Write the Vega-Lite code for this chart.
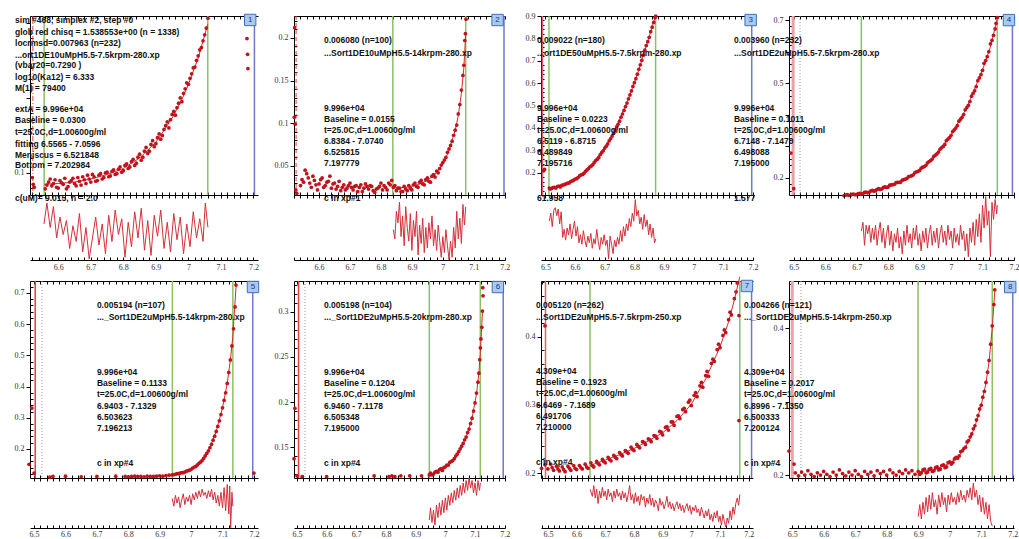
{
"$schema": "https://vega.github.io/schema/vega-lite/v6.json",
"background": "white",
"padding": {"left": 14, "top": 12, "right": 0, "bottom": 0},
"columns": 4,
"spacing": {"row": 0, "column": 36},
"bounds": "flush",
"align": "each",
"config": {
  "view": {"stroke": null},
  "axis": {"labelFont": "Liberation Serif", "labelFontSize": 8, "labelColor": "#333", "domainColor": "#000", "tickColor": "#000", "labelPadding": 2, "labelOverlap": false, "labelFlush": false, "grid": false},
  "text": {"font": "Liberation Sans"},
  "circle": {"size": 14, "color": "#c4121c", "opacity": 1}
},
"datasets": {
  "a1": [{"x":6.52,"y":0.094},{"x":6.523,"y":0.085},{"x":6.526,"y":0.081},{"x":7.18,"y":0.279},{"x":7.182,"y":0.258},{"x":7.183,"y":0.239},{"x":6.56,"y":0.079},{"x":6.565,"y":0.084},{"x":6.57,"y":0.088},{"x":6.575,"y":0.092},{"x":6.58,"y":0.083},{"x":6.585,"y":0.086},{"x":6.59,"y":0.091},{"x":6.595,"y":0.081},{"x":6.6,"y":0.08},{"x":6.605,"y":0.09},{"x":6.61,"y":0.087},{"x":6.615,"y":0.085},{"x":6.62,"y":0.093},{"x":6.625,"y":0.079},{"x":6.63,"y":0.082},{"x":6.635,"y":0.088},{"x":6.64,"y":0.09},{"x":6.645,"y":0.093},{"x":6.65,"y":0.086},{"x":6.655,"y":0.083},{"x":6.66,"y":0.094},{"x":6.665,"y":0.089},{"x":6.67,"y":0.084},{"x":6.675,"y":0.095},{"x":6.68,"y":0.091},{"x":6.685,"y":0.086},{"x":6.69,"y":0.097},{"x":6.695,"y":0.092},{"x":6.7,"y":0.088},{"x":6.705,"y":0.098},{"x":6.71,"y":0.095},{"x":6.715,"y":0.089},{"x":6.72,"y":0.09},{"x":6.725,"y":0.097},{"x":6.73,"y":0.099},{"x":6.735,"y":0.092},{"x":6.74,"y":0.094},{"x":6.745,"y":0.1},{"x":6.75,"y":0.101},{"x":6.755,"y":0.095},{"x":6.76,"y":0.096},{"x":6.765,"y":0.102},{"x":6.77,"y":0.104},{"x":6.775,"y":0.098},{"x":6.78,"y":0.099},{"x":6.785,"y":0.105},{"x":6.79,"y":0.108},{"x":6.795,"y":0.101},{"x":6.8,"y":0.103},{"x":6.805,"y":0.11},{"x":6.81,"y":0.112},{"x":6.815,"y":0.106},{"x":6.82,"y":0.108},{"x":6.825,"y":0.115},{"x":6.83,"y":0.118},{"x":6.835,"y":0.11},{"x":6.84,"y":0.113},{"x":6.845,"y":0.121},{"x":6.85,"y":0.125},{"x":6.855,"y":0.117},{"x":6.86,"y":0.121},{"x":6.865,"y":0.129},{"x":6.87,"y":0.134},{"x":6.875,"y":0.126},{"x":6.88,"y":0.129},{"x":6.885,"y":0.138},{"x":6.89,"y":0.143},{"x":6.895,"y":0.135},{"x":6.9,"y":0.139},{"x":6.905,"y":0.147},{"x":6.91,"y":0.152},{"x":6.915,"y":0.145},{"x":6.92,"y":0.15},{"x":6.925,"y":0.158},{"x":6.93,"y":0.163},{"x":6.935,"y":0.168},{"x":6.94,"y":0.16},{"x":6.945,"y":0.171},{"x":6.95,"y":0.178},{"x":6.955,"y":0.182},{"x":6.96,"y":0.177},{"x":6.965,"y":0.187},{"x":6.97,"y":0.193},{"x":6.975,"y":0.2},{"x":6.98,"y":0.195},{"x":6.985,"y":0.206},{"x":6.99,"y":0.212},{"x":6.995,"y":0.22},{"x":7,"y":0.218},{"x":7.005,"y":0.226},{"x":7.01,"y":0.232},{"x":7.015,"y":0.24},{"x":7.02,"y":0.241},{"x":7.025,"y":0.25},{"x":7.03,"y":0.256},{"x":7.035,"y":0.264},{"x":7.04,"y":0.267},{"x":7.045,"y":0.276},{"x":7.05,"y":0.284},{"x":7.055,"y":0.293},{"x":7.06,"y":0.306}],
  "f1": [{"x":6.5565,"y":0.085},{"x":6.6,"y":0.086},{"x":6.65,"y":0.088},{"x":6.7,"y":0.092},{"x":6.75,"y":0.098},{"x":6.8,"y":0.106},{"x":6.85,"y":0.12},{"x":6.9,"y":0.141},{"x":6.95,"y":0.173},{"x":6.98,"y":0.198},{"x":7,"y":0.218},{"x":7.03,"y":0.253},{"x":7.0596,"y":0.298}],
  "r1": [{"x":6.556,"y":0.004},{"x":6.565,"y":0.016},{"x":6.575,"y":0.002},{"x":6.585,"y":0.014},{"x":6.595,"y":-0.004},{"x":6.605,"y":0.008},{"x":6.615,"y":-0.002},{"x":6.625,"y":0.006},{"x":6.635,"y":-0.01},{"x":6.645,"y":0.003},{"x":6.655,"y":-0.006},{"x":6.665,"y":0.01},{"x":6.675,"y":-0.012},{"x":6.685,"y":0.002},{"x":6.695,"y":-0.016},{"x":6.705,"y":-0.004},{"x":6.715,"y":0.008},{"x":6.725,"y":-0.008},{"x":6.735,"y":0.004},{"x":6.745,"y":-0.013},{"x":6.755,"y":0.009},{"x":6.765,"y":-0.006},{"x":6.775,"y":0.012},{"x":6.785,"y":-0.002},{"x":6.795,"y":0.007},{"x":6.805,"y":-0.015},{"x":6.815,"y":0.005},{"x":6.825,"y":-0.009},{"x":6.835,"y":0.011},{"x":6.845,"y":-0.004},{"x":6.855,"y":0.013},{"x":6.865,"y":-0.011},{"x":6.875,"y":0.006},{"x":6.885,"y":-0.014},{"x":6.895,"y":0.009},{"x":6.905,"y":-0.003},{"x":6.915,"y":0.012},{"x":6.925,"y":-0.01},{"x":6.935,"y":0.005},{"x":6.945,"y":-0.012},{"x":6.955,"y":0.01},{"x":6.965,"y":-0.005},{"x":6.975,"y":0.008},{"x":6.985,"y":-0.013},{"x":6.995,"y":0.004},{"x":7.005,"y":-0.009},{"x":7.015,"y":0.011},{"x":7.025,"y":-0.004},{"x":7.035,"y":0.007},{"x":7.045,"y":-0.006},{"x":7.052,"y":0.016},{"x":7.06,"y":0.002}],
  "t1": [{"t":"sim #468, simplex #2, step #0","x":6.467,"y":0.3033},{"t":"glob red chisq = 1.538553e+00 (n = 1338)","x":6.467,"y":0.2877},{"t":"locrmsd=0.007963 (n=232)","x":6.467,"y":0.2726},{"t":"...ort1DE10uMpH5.5-7.5krpm-280.xp","x":6.467,"y":0.2574},{"t":" (vbar20=0.7290 )","x":6.467,"y":0.2433},{"t":"log10(Ka12) = 6.333","x":6.467,"y":0.2277},{"t":"M(1) = 79400","x":6.467,"y":0.2126},{"t":"extA = 9.996e+04","x":6.467,"y":0.1846},{"t":"Baseline = 0.0300","x":6.467,"y":0.1699},{"t":"t=25.0C,d=1.00600g/ml","x":6.467,"y":0.1543},{"t":"fitting 6.5565 - 7.0596","x":6.467,"y":0.1387},{"t":"Meniscus = 6.521848","x":6.467,"y":0.1246},{"t":"Bottom = 7.202984","x":6.467,"y":0.1104}],
  "a2": [{"x":6.521,"y":0.212},{"x":6.52,"y":0.107},{"x":6.523,"y":0.099},{"x":6.525,"y":0.022},{"x":6.528,"y":0.018},{"x":6.54,"y":0.027},{"x":6.545,"y":0.034},{"x":6.55,"y":0.031},{"x":6.555,"y":0.045},{"x":6.56,"y":0.041},{"x":6.565,"y":0.036},{"x":6.57,"y":0.03},{"x":6.575,"y":0.025},{"x":6.58,"y":0.038},{"x":6.585,"y":0.033},{"x":6.59,"y":0.028},{"x":6.595,"y":0.022},{"x":6.6,"y":0.029},{"x":6.605,"y":0.034},{"x":6.61,"y":0.036},{"x":6.615,"y":0.025},{"x":6.62,"y":0.027},{"x":6.625,"y":0.031},{"x":6.63,"y":0.032},{"x":6.635,"y":0.038},{"x":6.64,"y":0.024},{"x":6.645,"y":0.029},{"x":6.65,"y":0.03},{"x":6.655,"y":0.023},{"x":6.66,"y":0.026},{"x":6.665,"y":0.032},{"x":6.67,"y":0.021},{"x":6.675,"y":0.025},{"x":6.68,"y":0.028},{"x":6.685,"y":0.022},{"x":6.69,"y":0.024},{"x":6.695,"y":0.027},{"x":6.7,"y":0.03},{"x":6.705,"y":0.025},{"x":6.71,"y":0.022},{"x":6.715,"y":0.026},{"x":6.72,"y":0.027},{"x":6.725,"y":0.02},{"x":6.73,"y":0.025},{"x":6.735,"y":0.028},{"x":6.74,"y":0.02},{"x":6.745,"y":0.024},{"x":6.75,"y":0.029},{"x":6.755,"y":0.026},{"x":6.76,"y":0.023},{"x":6.765,"y":0.027},{"x":6.77,"y":0.026},{"x":6.775,"y":0.021},{"x":6.78,"y":0.019},{"x":6.785,"y":0.023},{"x":6.79,"y":0.024},{"x":6.795,"y":0.026},{"x":6.8,"y":0.03},{"x":6.805,"y":0.022},{"x":6.81,"y":0.027},{"x":6.815,"y":0.025},{"x":6.82,"y":0.022},{"x":6.825,"y":0.03},{"x":6.83,"y":0.028},{"x":6.835,"y":0.033},{"x":6.84,"y":0.025},{"x":6.845,"y":0.027},{"x":6.85,"y":0.021},{"x":6.855,"y":0.024},{"x":6.86,"y":0.024},{"x":6.865,"y":0.02},{"x":6.87,"y":0.02},{"x":6.875,"y":0.026},{"x":6.88,"y":0.023},{"x":6.885,"y":0.021},{"x":6.89,"y":0.027},{"x":6.895,"y":0.024},{"x":6.9,"y":0.022},{"x":6.905,"y":0.028},{"x":6.91,"y":0.03},{"x":6.915,"y":0.026},{"x":6.92,"y":0.025},{"x":6.925,"y":0.031},{"x":6.93,"y":0.033},{"x":6.935,"y":0.029},{"x":6.94,"y":0.028},{"x":6.945,"y":0.034},{"x":6.95,"y":0.036},{"x":6.955,"y":0.032},{"x":6.96,"y":0.031},{"x":6.965,"y":0.038},{"x":6.97,"y":0.04},{"x":6.975,"y":0.037},{"x":6.98,"y":0.044},{"x":6.985,"y":0.042},{"x":6.99,"y":0.047},{"x":6.995,"y":0.051},{"x":7,"y":0.054},{"x":7.005,"y":0.057},{"x":7.01,"y":0.06},{"x":7.015,"y":0.066},{"x":7.02,"y":0.07},{"x":7.025,"y":0.074},{"x":7.03,"y":0.079},{"x":7.035,"y":0.086},{"x":7.04,"y":0.092},{"x":7.045,"y":0.098},{"x":7.05,"y":0.111},{"x":7.055,"y":0.122},{"x":7.06,"y":0.139},{"x":7.065,"y":0.156},{"x":7.068,"y":0.168},{"x":7.071,"y":0.197},{"x":7.073,"y":0.205},{"x":7.075,"y":0.222}],
  "f2": [{"x":6.8384,"y":0.024},{"x":6.88,"y":0.025},{"x":6.92,"y":0.028},{"x":6.95,"y":0.033},{"x":6.98,"y":0.042},{"x":7,"y":0.052},{"x":7.02,"y":0.068},{"x":7.04,"y":0.092},{"x":7.05,"y":0.109},{"x":7.06,"y":0.135},{"x":7.068,"y":0.165},{"x":7.074,"y":0.205}],
  "r2": [{"x":6.84,"y":0.001},{"x":6.845,"y":-0.003},{"x":6.85,"y":0.009},{"x":6.855,"y":0.004},{"x":6.86,"y":0.013},{"x":6.865,"y":-0.002},{"x":6.87,"y":0.007},{"x":6.875,"y":-0.006},{"x":6.88,"y":0.011},{"x":6.885,"y":0.002},{"x":6.89,"y":-0.004},{"x":6.895,"y":0.008},{"x":6.9,"y":-0.008},{"x":6.905,"y":0.005},{"x":6.91,"y":-0.002},{"x":6.915,"y":0.009},{"x":6.92,"y":-0.01},{"x":6.925,"y":0.003},{"x":6.93,"y":-0.005},{"x":6.935,"y":0.006},{"x":6.94,"y":-0.009},{"x":6.945,"y":0.002},{"x":6.95,"y":-0.007},{"x":6.955,"y":0.004},{"x":6.96,"y":-0.003},{"x":6.965,"y":0.007},{"x":6.97,"y":-0.006},{"x":6.975,"y":0.001},{"x":6.98,"y":-0.008},{"x":6.985,"y":0.003},{"x":6.99,"y":-0.004},{"x":6.995,"y":-0.011},{"x":7,"y":-0.002},{"x":7.005,"y":-0.009},{"x":7.01,"y":0.001},{"x":7.015,"y":-0.006},{"x":7.02,"y":-0.012},{"x":7.025,"y":-0.004},{"x":7.03,"y":-0.011},{"x":7.035,"y":0.002},{"x":7.04,"y":-0.007},{"x":7.045,"y":0.009},{"x":7.05,"y":-0.003},{"x":7.055,"y":0.006},{"x":7.06,"y":-0.005},{"x":7.065,"y":0.012},{"x":7.07,"y":0.003},{"x":7.074,"y":0.011}],
  "t2": [{"t":"0.006080 (n=100)","x":6.616,"y":0.1976},{"t":"...Sort1DE10uMpH5.5-14krpm-280.xp","x":6.616,"y":0.1824},{"t":"9.996e+04","x":6.616,"y":0.1181},{"t":"Baseline = 0.0155","x":6.616,"y":0.1052},{"t":"t=25.0C,d=1.00600g/ml","x":6.616,"y":0.0923},{"t":"6.8384 - 7.0740","x":6.616,"y":0.0795},{"t":"6.525815","x":6.616,"y":0.0666},{"t":"7.197779","x":6.616,"y":0.0538}],
  "a3": [{"x":6.494,"y":0.208},{"x":6.497,"y":0.214},{"x":6.513,"y":0.131},{"x":6.516,"y":0.127},{"x":6.52,"y":0.129},{"x":6.525,"y":0.133},{"x":6.53,"y":0.134},{"x":6.535,"y":0.131},{"x":6.54,"y":0.138},{"x":6.545,"y":0.14},{"x":6.55,"y":0.136},{"x":6.555,"y":0.143},{"x":6.56,"y":0.145},{"x":6.565,"y":0.147},{"x":6.57,"y":0.15},{"x":6.575,"y":0.153},{"x":6.58,"y":0.154},{"x":6.585,"y":0.16},{"x":6.59,"y":0.163},{"x":6.595,"y":0.166},{"x":6.6,"y":0.171},{"x":6.605,"y":0.173},{"x":6.61,"y":0.178},{"x":6.615,"y":0.185},{"x":6.62,"y":0.19},{"x":6.625,"y":0.192},{"x":6.63,"y":0.197},{"x":6.635,"y":0.206},{"x":6.64,"y":0.212},{"x":6.645,"y":0.218},{"x":6.65,"y":0.226},{"x":6.655,"y":0.23},{"x":6.66,"y":0.236},{"x":6.665,"y":0.246},{"x":6.67,"y":0.255},{"x":6.675,"y":0.26},{"x":6.68,"y":0.268},{"x":6.685,"y":0.281},{"x":6.69,"y":0.29},{"x":6.695,"y":0.298},{"x":6.7,"y":0.31},{"x":6.705,"y":0.318},{"x":6.71,"y":0.328},{"x":6.715,"y":0.342},{"x":6.72,"y":0.352},{"x":6.725,"y":0.364},{"x":6.73,"y":0.377},{"x":6.735,"y":0.39},{"x":6.74,"y":0.405},{"x":6.745,"y":0.416},{"x":6.75,"y":0.43},{"x":6.755,"y":0.448},{"x":6.76,"y":0.462},{"x":6.765,"y":0.478},{"x":6.77,"y":0.495},{"x":6.775,"y":0.511},{"x":6.78,"y":0.53},{"x":6.785,"y":0.547},{"x":6.79,"y":0.565},{"x":6.795,"y":0.585},{"x":6.8,"y":0.602},{"x":6.805,"y":0.62},{"x":6.81,"y":0.64},{"x":6.815,"y":0.662},{"x":6.82,"y":0.682},{"x":6.825,"y":0.702},{"x":6.83,"y":0.725},{"x":6.835,"y":0.747},{"x":6.84,"y":0.768},{"x":6.845,"y":0.785},{"x":6.85,"y":0.805},{"x":6.855,"y":0.83},{"x":6.86,"y":0.85},{"x":6.865,"y":0.871},{"x":6.87,"y":0.893},{"x":6.872,"y":0.9}],
  "f3": [{"x":6.5119,"y":0.129},{"x":6.55,"y":0.137},{"x":6.6,"y":0.169},{"x":6.65,"y":0.225},{"x":6.7,"y":0.31},{"x":6.74,"y":0.405},{"x":6.78,"y":0.53},{"x":6.81,"y":0.64},{"x":6.84,"y":0.766},{"x":6.8715,"y":0.9}],
  "r3": [{"x":6.513,"y":0.008},{"x":6.518,"y":0.014},{"x":6.523,"y":0.004},{"x":6.528,"y":0.016},{"x":6.533,"y":0.018},{"x":6.538,"y":0.012},{"x":6.543,"y":0.017},{"x":6.548,"y":0.006},{"x":6.553,"y":0.015},{"x":6.558,"y":-0.004},{"x":6.563,"y":0.002},{"x":6.568,"y":-0.006},{"x":6.573,"y":0.003},{"x":6.578,"y":-0.002},{"x":6.583,"y":0.006},{"x":6.588,"y":-0.005},{"x":6.593,"y":0.002},{"x":6.598,"y":0.008},{"x":6.603,"y":-0.003},{"x":6.608,"y":0.004},{"x":6.613,"y":-0.008},{"x":6.618,"y":-0.002},{"x":6.623,"y":-0.009},{"x":6.628,"y":0.001},{"x":6.633,"y":-0.006},{"x":6.638,"y":-0.011},{"x":6.643,"y":-0.003},{"x":6.648,"y":-0.008},{"x":6.653,"y":-0.001},{"x":6.658,"y":-0.012},{"x":6.663,"y":-0.005},{"x":6.668,"y":-0.009},{"x":6.673,"y":0.002},{"x":6.678,"y":-0.007},{"x":6.683,"y":-0.013},{"x":6.688,"y":-0.004},{"x":6.693,"y":-0.009},{"x":6.698,"y":-0.002},{"x":6.703,"y":-0.01},{"x":6.708,"y":-0.006},{"x":6.713,"y":-0.02},{"x":6.718,"y":-0.003},{"x":6.723,"y":-0.009},{"x":6.728,"y":-0.016},{"x":6.733,"y":-0.006},{"x":6.738,"y":-0.011},{"x":6.743,"y":-0.004},{"x":6.748,"y":-0.009},{"x":6.753,"y":0.001},{"x":6.758,"y":-0.007},{"x":6.763,"y":0.004},{"x":6.768,"y":-0.003},{"x":6.773,"y":0.006},{"x":6.778,"y":0.001},{"x":6.783,"y":0.01},{"x":6.788,"y":0.004},{"x":6.793,"y":0.014},{"x":6.798,"y":0.008},{"x":6.803,"y":0.024},{"x":6.808,"y":0.012},{"x":6.813,"y":0.016},{"x":6.818,"y":0.006},{"x":6.823,"y":0.011},{"x":6.828,"y":0.002},{"x":6.833,"y":0.013},{"x":6.838,"y":0.004},{"x":6.843,"y":0.009},{"x":6.848,"y":-0.002},{"x":6.853,"y":0.006},{"x":6.858,"y":-0.004},{"x":6.863,"y":0.003},{"x":6.868,"y":-0.008},{"x":6.872,"y":-0.005}],
  "t3": [{"t":"0.009022 (n=180)","x":6.4715,"y":0.7927},{"t":"...ort1DE50uMpH5.5-7.5krpm-280.xp","x":6.4715,"y":0.7346},{"t":"9.996e+04","x":6.4715,"y":0.4888},{"t":"Baseline = 0.0223","x":6.4715,"y":0.4397},{"t":"t=25.0C,d=1.00600g/ml","x":6.4715,"y":0.3905},{"t":"6.5119 - 6.8715","x":6.4715,"y":0.3413},{"t":"6.489849","x":6.4715,"y":0.2922},{"t":"7.195716","x":6.4715,"y":0.243}],
  "a4": [{"x":6.491,"y":0.279},{"x":6.5,"y":0.166},{"x":6.66,"y":0.144},{"x":6.665,"y":0.146},{"x":6.67,"y":0.147},{"x":6.675,"y":0.145},{"x":6.68,"y":0.145},{"x":6.685,"y":0.148},{"x":6.69,"y":0.149},{"x":6.695,"y":0.147},{"x":6.7,"y":0.147},{"x":6.705,"y":0.15},{"x":6.71,"y":0.151},{"x":6.715,"y":0.149},{"x":6.72,"y":0.15},{"x":6.725,"y":0.154},{"x":6.73,"y":0.155},{"x":6.735,"y":0.153},{"x":6.74,"y":0.155},{"x":6.745,"y":0.159},{"x":6.75,"y":0.161},{"x":6.755,"y":0.158},{"x":6.76,"y":0.16},{"x":6.765,"y":0.164},{"x":6.77,"y":0.166},{"x":6.775,"y":0.164},{"x":6.78,"y":0.165},{"x":6.785,"y":0.17},{"x":6.79,"y":0.172},{"x":6.795,"y":0.17},{"x":6.8,"y":0.171},{"x":6.805,"y":0.177},{"x":6.81,"y":0.178},{"x":6.815,"y":0.179},{"x":6.82,"y":0.18},{"x":6.825,"y":0.185},{"x":6.83,"y":0.186},{"x":6.835,"y":0.186},{"x":6.84,"y":0.187},{"x":6.845,"y":0.193},{"x":6.85,"y":0.195},{"x":6.855,"y":0.196},{"x":6.86,"y":0.199},{"x":6.865,"y":0.204},{"x":6.87,"y":0.205},{"x":6.875,"y":0.207},{"x":6.88,"y":0.21},{"x":6.885,"y":0.217},{"x":6.89,"y":0.219},{"x":6.895,"y":0.221},{"x":6.9,"y":0.224},{"x":6.905,"y":0.231},{"x":6.91,"y":0.234},{"x":6.915,"y":0.236},{"x":6.92,"y":0.24},{"x":6.925,"y":0.248},{"x":6.93,"y":0.252},{"x":6.935,"y":0.255},{"x":6.94,"y":0.26},{"x":6.945,"y":0.268},{"x":6.95,"y":0.272},{"x":6.955,"y":0.276},{"x":6.96,"y":0.282},{"x":6.965,"y":0.291},{"x":6.97,"y":0.296},{"x":6.975,"y":0.3},{"x":6.98,"y":0.306},{"x":6.985,"y":0.318},{"x":6.99,"y":0.323},{"x":6.995,"y":0.328},{"x":7,"y":0.335},{"x":7.005,"y":0.347},{"x":7.01,"y":0.352},{"x":7.015,"y":0.358},{"x":7.02,"y":0.366},{"x":7.025,"y":0.38},{"x":7.03,"y":0.386},{"x":7.035,"y":0.392},{"x":7.04,"y":0.401},{"x":7.045,"y":0.416},{"x":7.05,"y":0.423},{"x":7.055,"y":0.43},{"x":7.06,"y":0.442},{"x":7.065,"y":0.459},{"x":7.07,"y":0.468},{"x":7.075,"y":0.476},{"x":7.08,"y":0.489},{"x":7.085,"y":0.508},{"x":7.09,"y":0.517},{"x":7.095,"y":0.527},{"x":7.1,"y":0.541},{"x":7.105,"y":0.563},{"x":7.11,"y":0.572},{"x":7.115,"y":0.584},{"x":7.12,"y":0.6},{"x":7.125,"y":0.625},{"x":7.13,"y":0.636},{"x":7.135,"y":0.652},{"x":7.14,"y":0.672},{"x":7.143,"y":0.69},{"x":7.147,"y":0.708}],
  "f4": [{"x":6.7148,"y":0.15},{"x":6.75,"y":0.159},{"x":6.8,"y":0.172},{"x":6.85,"y":0.194},{"x":6.9,"y":0.225},{"x":6.95,"y":0.271},{"x":7,"y":0.336},{"x":7.05,"y":0.423},{"x":7.1,"y":0.542},{"x":7.125,"y":0.615},{"x":7.147,"y":0.705}],
  "r4": [{"x":6.715,"y":0.002},{"x":6.72,"y":0.005},{"x":6.725,"y":-0.003},{"x":6.73,"y":0.004},{"x":6.735,"y":0.001},{"x":6.74,"y":0.004},{"x":6.745,"y":-0.002},{"x":6.75,"y":0.003},{"x":6.755,"y":-0.001},{"x":6.76,"y":0.004},{"x":6.765,"y":-0.003},{"x":6.77,"y":0.002},{"x":6.775,"y":0.005},{"x":6.78,"y":-0.002},{"x":6.785,"y":0.003},{"x":6.79,"y":-0.004},{"x":6.795,"y":0.001},{"x":6.8,"y":0.004},{"x":6.805,"y":-0.003},{"x":6.81,"y":0.002},{"x":6.815,"y":-0.005},{"x":6.82,"y":0.001},{"x":6.825,"y":-0.002},{"x":6.83,"y":0.003},{"x":6.835,"y":-0.004},{"x":6.84,"y":0},{"x":6.845,"y":-0.006},{"x":6.85,"y":0.002},{"x":6.855,"y":-0.003},{"x":6.86,"y":0.004},{"x":6.865,"y":-0.002},{"x":6.87,"y":0.001},{"x":6.875,"y":-0.004},{"x":6.88,"y":0.003},{"x":6.885,"y":-0.001},{"x":6.89,"y":0.004},{"x":6.895,"y":-0.003},{"x":6.9,"y":0.001},{"x":6.905,"y":-0.005},{"x":6.91,"y":0.002},{"x":6.915,"y":-0.002},{"x":6.92,"y":0.003},{"x":6.925,"y":-0.004},{"x":6.93,"y":0.001},{"x":6.935,"y":0.004},{"x":6.94,"y":-0.003},{"x":6.945,"y":0.002},{"x":6.95,"y":-0.002},{"x":6.955,"y":0.003},{"x":6.96,"y":-0.004},{"x":6.965,"y":0.001},{"x":6.97,"y":0.004},{"x":6.975,"y":-0.002},{"x":6.98,"y":0.002},{"x":6.985,"y":-0.003},{"x":6.99,"y":0.004},{"x":6.995,"y":-0.001},{"x":7,"y":0.002},{"x":7.005,"y":-0.004},{"x":7.01,"y":0.003},{"x":7.015,"y":-0.002},{"x":7.02,"y":0.001},{"x":7.025,"y":-0.003},{"x":7.03,"y":0.004},{"x":7.035,"y":-0.001},{"x":7.04,"y":0.002},{"x":7.045,"y":-0.005},{"x":7.05,"y":0.001},{"x":7.055,"y":-0.007},{"x":7.06,"y":0.003},{"x":7.065,"y":-0.002},{"x":7.07,"y":0.005},{"x":7.075,"y":-0.003},{"x":7.08,"y":0.006},{"x":7.085,"y":0},{"x":7.09,"y":0.008},{"x":7.095,"y":-0.002},{"x":7.1,"y":0.011},{"x":7.105,"y":0.003},{"x":7.11,"y":0.014},{"x":7.115,"y":0.004},{"x":7.12,"y":0.009},{"x":7.125,"y":-0.007},{"x":7.13,"y":0.012},{"x":7.135,"y":0.006},{"x":7.14,"y":0.013},{"x":7.145,"y":0.008},{"x":7.147,"y":0.011}],
  "t4": [{"t":"0.003960 (n=232)","x":6.31,"y":0.6371},{"t":"...Sort1DE2uMpH5.5-7.5krpm-280.xp","x":6.31,"y":0.5959},{"t":"9.996e+04","x":6.31,"y":0.4219},{"t":"Baseline = 0.1011","x":6.31,"y":0.387},{"t":"t=25.0C,d=1.00600g/ml","x":6.31,"y":0.3522},{"t":"6.7148 - 7.1470","x":6.31,"y":0.3174},{"t":"6.498088","x":6.31,"y":0.2826},{"t":"7.195000","x":6.31,"y":0.2478}],
  "a5": [{"x":6.484,"y":0.151},{"x":6.493,"y":0.331},{"x":6.5,"y":0.123},{"x":6.55,"y":0.11},{"x":7.2,"y":0.123},{"x":6.56,"y":0.112},{"x":6.6,"y":0.113},{"x":6.65,"y":0.111},{"x":6.7,"y":0.112},{"x":6.76,"y":0.113},{"x":6.79,"y":0.112},{"x":6.8,"y":0.111},{"x":6.81,"y":0.112},{"x":6.82,"y":0.113},{"x":6.83,"y":0.112},{"x":6.84,"y":0.112},{"x":6.85,"y":0.111},{"x":6.86,"y":0.113},{"x":6.87,"y":0.112},{"x":6.88,"y":0.112},{"x":6.89,"y":0.113},{"x":6.9,"y":0.114},{"x":6.91,"y":0.113},{"x":6.92,"y":0.115},{"x":6.93,"y":0.116},{"x":6.94,"y":0.117},{"x":6.945,"y":0.118},{"x":6.95,"y":0.119},{"x":6.955,"y":0.121},{"x":6.96,"y":0.121},{"x":6.965,"y":0.123},{"x":6.97,"y":0.124},{"x":6.975,"y":0.124},{"x":6.98,"y":0.126},{"x":6.985,"y":0.129},{"x":6.99,"y":0.131},{"x":6.995,"y":0.132},{"x":7,"y":0.135},{"x":7.005,"y":0.139},{"x":7.01,"y":0.142},{"x":7.015,"y":0.144},{"x":7.02,"y":0.149},{"x":7.025,"y":0.154},{"x":7.03,"y":0.158},{"x":7.035,"y":0.163},{"x":7.04,"y":0.17},{"x":7.045,"y":0.178},{"x":7.05,"y":0.186},{"x":7.055,"y":0.194},{"x":7.06,"y":0.204},{"x":7.065,"y":0.215},{"x":7.07,"y":0.228},{"x":7.075,"y":0.241},{"x":7.08,"y":0.256},{"x":7.085,"y":0.272},{"x":7.09,"y":0.29},{"x":7.095,"y":0.31},{"x":7.1,"y":0.332},{"x":7.105,"y":0.356},{"x":7.11,"y":0.38},{"x":7.115,"y":0.41},{"x":7.12,"y":0.445},{"x":7.125,"y":0.485},{"x":7.13,"y":0.53},{"x":7.135,"y":0.585},{"x":7.14,"y":0.655},{"x":7.143,"y":0.725}],
  "f5": [{"x":6.9403,"y":0.117},{"x":6.97,"y":0.123},{"x":7,"y":0.135},{"x":7.03,"y":0.158},{"x":7.06,"y":0.204},{"x":7.08,"y":0.256},{"x":7.1,"y":0.332},{"x":7.115,"y":0.41},{"x":7.125,"y":0.485},{"x":7.1329,"y":0.56},{"x":7.143,"y":0.72}],
  "r5": [{"x":6.94,"y":0.002},{"x":6.945,"y":-0.003},{"x":6.95,"y":0.004},{"x":6.955,"y":-0.001},{"x":6.96,"y":0.003},{"x":6.965,"y":-0.004},{"x":6.97,"y":0.001},{"x":6.975,"y":0.005},{"x":6.98,"y":-0.002},{"x":6.985,"y":0.003},{"x":6.99,"y":0},{"x":6.995,"y":0.004},{"x":7,"y":-0.002},{"x":7.005,"y":0.005},{"x":7.01,"y":0.001},{"x":7.015,"y":0.006},{"x":7.02,"y":0.002},{"x":7.025,"y":0.007},{"x":7.03,"y":0.003},{"x":7.035,"y":0.008},{"x":7.04,"y":0.004},{"x":7.045,"y":0.006},{"x":7.05,"y":0.002},{"x":7.055,"y":0.007},{"x":7.06,"y":0.003},{"x":7.065,"y":0.008},{"x":7.07,"y":0.001},{"x":7.075,"y":0.006},{"x":7.08,"y":-0.001},{"x":7.085,"y":0.004},{"x":7.09,"y":-0.003},{"x":7.095,"y":0.006},{"x":7.1,"y":-0.004},{"x":7.105,"y":0.009},{"x":7.11,"y":-0.006},{"x":7.115,"y":0.011},{"x":7.12,"y":-0.008},{"x":7.123,"y":0.01},{"x":7.126,"y":-0.017},{"x":7.13,"y":0.006},{"x":7.133,"y":-0.003}],
  "t5": [{"t":"0.005194 (n=107)","x":6.7,"y":0.6611},{"t":"..._Sort1DE2uMpH5.5-14krpm-280.xp","x":6.7,"y":0.6226},{"t":"9.996e+04","x":6.7,"y":0.4463},{"t":"Baseline = 0.1133","x":6.7,"y":0.4111},{"t":"t=25.0C,d=1.00600g/ml","x":6.7,"y":0.3758},{"t":"6.9403 - 7.1329","x":6.7,"y":0.3374},{"t":"6.503623","x":6.7,"y":0.3021},{"t":"7.196213","x":6.7,"y":0.2668},{"t":"c in xp#4","x":6.7,"y":0.1547}],
  "a6": [{"x":6.493,"y":0.193},{"x":6.49,"y":0.137},{"x":6.5,"y":0.118},{"x":6.517,"y":0.117},{"x":7.126,"y":0.327},{"x":7.127,"y":0.318},{"x":6.6,"y":0.117},{"x":6.76,"y":0.118},{"x":6.81,"y":0.117},{"x":6.82,"y":0.118},{"x":6.83,"y":0.117},{"x":6.85,"y":0.118},{"x":6.88,"y":0.118},{"x":6.92,"y":0.118},{"x":6.946,"y":0.119},{"x":6.95,"y":0.121},{"x":6.955,"y":0.119},{"x":6.96,"y":0.12},{"x":6.965,"y":0.122},{"x":6.97,"y":0.123},{"x":6.975,"y":0.122},{"x":6.98,"y":0.125},{"x":6.985,"y":0.126},{"x":6.99,"y":0.124},{"x":6.995,"y":0.127},{"x":7,"y":0.128},{"x":7.005,"y":0.13},{"x":7.01,"y":0.13},{"x":7.015,"y":0.133},{"x":7.02,"y":0.134},{"x":7.025,"y":0.135},{"x":7.03,"y":0.137},{"x":7.035,"y":0.14},{"x":7.04,"y":0.142},{"x":7.045,"y":0.145},{"x":7.05,"y":0.148},{"x":7.055,"y":0.151},{"x":7.06,"y":0.154},{"x":7.065,"y":0.158},{"x":7.07,"y":0.161},{"x":7.075,"y":0.166},{"x":7.08,"y":0.17},{"x":7.085,"y":0.176},{"x":7.09,"y":0.182},{"x":7.095,"y":0.19},{"x":7.1,"y":0.199},{"x":7.105,"y":0.21},{"x":7.11,"y":0.222},{"x":7.113,"y":0.232},{"x":7.116,"y":0.247},{"x":7.118,"y":0.26},{"x":7.12,"y":0.27},{"x":7.123,"y":0.283},{"x":7.125,"y":0.301}],
  "f6": [{"x":6.946,"y":0.119},{"x":6.98,"y":0.124},{"x":7.02,"y":0.133},{"x":7.05,"y":0.147},{"x":7.07,"y":0.161},{"x":7.09,"y":0.182},{"x":7.105,"y":0.209},{"x":7.113,"y":0.232},{"x":7.118,"y":0.255},{"x":7.125,"y":0.3}],
  "r6": [{"x":6.946,"y":-0.008},{"x":6.95,"y":-0.003},{"x":6.955,"y":-0.009},{"x":6.96,"y":-0.004},{"x":6.965,"y":-0.01},{"x":6.97,"y":-0.002},{"x":6.975,"y":-0.007},{"x":6.98,"y":-0.001},{"x":6.985,"y":-0.006},{"x":6.99,"y":0},{"x":6.995,"y":-0.005},{"x":7,"y":0.001},{"x":7.005,"y":-0.004},{"x":7.01,"y":0.002},{"x":7.015,"y":-0.002},{"x":7.02,"y":0.003},{"x":7.025,"y":-0.001},{"x":7.03,"y":0.004},{"x":7.035,"y":0},{"x":7.04,"y":0.005},{"x":7.045,"y":0.001},{"x":7.05,"y":0.006},{"x":7.055,"y":0.002},{"x":7.06,"y":0.007},{"x":7.065,"y":0.003},{"x":7.07,"y":0.008},{"x":7.075,"y":0.004},{"x":7.08,"y":0.009},{"x":7.085,"y":0.005},{"x":7.09,"y":0.008},{"x":7.095,"y":0.003},{"x":7.1,"y":0.007},{"x":7.105,"y":0.002},{"x":7.11,"y":0.008},{"x":7.115,"y":0.004},{"x":7.118,"y":0.007}],
  "t6": [{"t":"0.005198 (n=104)","x":6.591,"y":0.3077},{"t":"..._Sort1DE2uMpH5.5-20krpm-280.xp","x":6.591,"y":0.2944},{"t":"9.996e+04","x":6.591,"y":0.2333},{"t":"Baseline = 0.1204","x":6.591,"y":0.2211},{"t":"t=25.0C,d=1.00600g/ml","x":6.591,"y":0.2089},{"t":"6.9460 - 7.1178","x":6.591,"y":0.1955},{"t":"6.505348","x":6.591,"y":0.1833},{"t":"7.195000","x":6.591,"y":0.1711},{"t":"c in xp#4","x":6.591,"y":0.1322}],
  "a7": [{"x":6.49,"y":0.416},{"x":7.166,"y":0.431},{"x":7.166,"y":0.277},{"x":6.478,"y":0.207},{"x":6.49,"y":0.212},{"x":6.5,"y":0.206},{"x":6.51,"y":0.213},{"x":6.515,"y":0.208},{"x":6.52,"y":0.204},{"x":6.53,"y":0.21},{"x":6.535,"y":0.206},{"x":6.54,"y":0.203},{"x":6.55,"y":0.209},{"x":6.555,"y":0.205},{"x":6.56,"y":0.202},{"x":6.57,"y":0.21},{"x":6.575,"y":0.207},{"x":6.58,"y":0.204},{"x":6.59,"y":0.211},{"x":6.595,"y":0.207},{"x":6.6,"y":0.205},{"x":6.61,"y":0.211},{"x":6.615,"y":0.208},{"x":6.62,"y":0.206},{"x":6.63,"y":0.213},{"x":6.635,"y":0.209},{"x":6.64,"y":0.207},{"x":6.65,"y":0.215},{"x":6.655,"y":0.211},{"x":6.66,"y":0.209},{"x":6.67,"y":0.217},{"x":6.675,"y":0.214},{"x":6.68,"y":0.212},{"x":6.69,"y":0.22},{"x":6.695,"y":0.217},{"x":6.7,"y":0.215},{"x":6.71,"y":0.223},{"x":6.715,"y":0.22},{"x":6.72,"y":0.218},{"x":6.73,"y":0.226},{"x":6.735,"y":0.223},{"x":6.74,"y":0.221},{"x":6.75,"y":0.23},{"x":6.755,"y":0.227},{"x":6.76,"y":0.225},{"x":6.77,"y":0.233},{"x":6.775,"y":0.231},{"x":6.78,"y":0.229},{"x":6.79,"y":0.238},{"x":6.795,"y":0.235},{"x":6.8,"y":0.233},{"x":6.81,"y":0.242},{"x":6.815,"y":0.239},{"x":6.82,"y":0.237},{"x":6.83,"y":0.246},{"x":6.835,"y":0.245},{"x":6.84,"y":0.242},{"x":6.85,"y":0.25},{"x":6.855,"y":0.249},{"x":6.86,"y":0.246},{"x":6.87,"y":0.255},{"x":6.875,"y":0.254},{"x":6.88,"y":0.251},{"x":6.89,"y":0.261},{"x":6.895,"y":0.26},{"x":6.9,"y":0.256},{"x":6.91,"y":0.267},{"x":6.915,"y":0.268},{"x":6.92,"y":0.263},{"x":6.93,"y":0.275},{"x":6.935,"y":0.275},{"x":6.94,"y":0.27},{"x":6.95,"y":0.283},{"x":6.955,"y":0.284},{"x":6.96,"y":0.28},{"x":6.97,"y":0.293},{"x":6.975,"y":0.295},{"x":6.98,"y":0.29},{"x":6.99,"y":0.304},{"x":6.995,"y":0.307},{"x":7,"y":0.299},{"x":7.01,"y":0.314},{"x":7.015,"y":0.318},{"x":7.02,"y":0.312},{"x":7.03,"y":0.328},{"x":7.035,"y":0.333},{"x":7.04,"y":0.326},{"x":7.05,"y":0.343},{"x":7.055,"y":0.349},{"x":7.06,"y":0.342},{"x":7.07,"y":0.361},{"x":7.075,"y":0.367},{"x":7.08,"y":0.364},{"x":7.09,"y":0.381},{"x":7.095,"y":0.389},{"x":7.1,"y":0.384},{"x":7.11,"y":0.402},{"x":7.115,"y":0.41},{"x":7.12,"y":0.406},{"x":7.13,"y":0.425},{"x":7.135,"y":0.436},{"x":7.14,"y":0.432},{"x":7.15,"y":0.456},{"x":7.156,"y":0.466},{"x":7.16,"y":0.479}],
  "f7": [{"x":6.6469,"y":0.211},{"x":6.7,"y":0.219},{"x":6.75,"y":0.227},{"x":6.8,"y":0.236},{"x":6.85,"y":0.247},{"x":6.9,"y":0.259},{"x":6.95,"y":0.277},{"x":7,"y":0.301},{"x":7.05,"y":0.338},{"x":7.1,"y":0.385},{"x":7.13,"y":0.422},{"x":7.15,"y":0.454},{"x":7.1689,"y":0.488}],
  "r7": [{"x":6.647,"y":0.006},{"x":6.655,"y":0.002},{"x":6.66,"y":0.008},{"x":6.665,"y":0.001},{"x":6.67,"y":0.006},{"x":6.675,"y":-0.002},{"x":6.68,"y":0.005},{"x":6.685,"y":0.001},{"x":6.69,"y":0.007},{"x":6.695,"y":0.002},{"x":6.7,"y":0.005},{"x":6.705,"y":0},{"x":6.71,"y":0.006},{"x":6.715,"y":0.002},{"x":6.72,"y":0.004},{"x":6.725,"y":-0.001},{"x":6.73,"y":0.005},{"x":6.735,"y":0.001},{"x":6.74,"y":0.006},{"x":6.745,"y":0.002},{"x":6.75,"y":0.004},{"x":6.755,"y":0},{"x":6.76,"y":0.005},{"x":6.765,"y":0.001},{"x":6.77,"y":0.004},{"x":6.775,"y":-0.001},{"x":6.78,"y":0.003},{"x":6.785,"y":0.008},{"x":6.79,"y":0},{"x":6.795,"y":0.003},{"x":6.8,"y":-0.002},{"x":6.805,"y":0.004},{"x":6.81,"y":-0.001},{"x":6.815,"y":0.002},{"x":6.82,"y":-0.003},{"x":6.825,"y":0.003},{"x":6.83,"y":0},{"x":6.835,"y":0.002},{"x":6.84,"y":-0.004},{"x":6.845,"y":0.001},{"x":6.85,"y":-0.002},{"x":6.855,"y":0.003},{"x":6.86,"y":-0.003},{"x":6.865,"y":0.001},{"x":6.87,"y":-0.004},{"x":6.875,"y":0},{"x":6.88,"y":-0.002},{"x":6.885,"y":-0.006},{"x":6.89,"y":0.001},{"x":6.895,"y":-0.003},{"x":6.9,"y":-0.001},{"x":6.905,"y":-0.005},{"x":6.91,"y":-0.002},{"x":6.915,"y":0.002},{"x":6.92,"y":-0.004},{"x":6.925,"y":-0.001},{"x":6.93,"y":-0.005},{"x":6.935,"y":-0.002},{"x":6.94,"y":-0.006},{"x":6.945,"y":-0.003},{"x":6.95,"y":-0.001},{"x":6.955,"y":-0.005},{"x":6.96,"y":-0.002},{"x":6.965,"y":-0.006},{"x":6.97,"y":-0.003},{"x":6.975,"y":-0.007},{"x":6.98,"y":-0.004},{"x":6.985,"y":-0.002},{"x":6.99,"y":-0.006},{"x":6.995,"y":-0.003},{"x":7,"y":-0.008},{"x":7.005,"y":-0.004},{"x":7.01,"y":-0.006},{"x":7.015,"y":-0.003},{"x":7.02,"y":-0.007},{"x":7.025,"y":-0.005},{"x":7.03,"y":-0.009},{"x":7.035,"y":-0.004},{"x":7.04,"y":-0.007},{"x":7.045,"y":-0.01},{"x":7.05,"y":-0.006},{"x":7.055,"y":-0.009},{"x":7.06,"y":-0.005},{"x":7.065,"y":-0.011},{"x":7.07,"y":-0.008},{"x":7.075,"y":-0.012},{"x":7.08,"y":-0.007},{"x":7.085,"y":-0.01},{"x":7.09,"y":-0.006},{"x":7.095,"y":-0.012},{"x":7.1,"y":-0.009},{"x":7.105,"y":-0.014},{"x":7.11,"y":-0.008},{"x":7.115,"y":-0.012},{"x":7.12,"y":-0.015},{"x":7.125,"y":-0.01},{"x":7.13,"y":-0.013},{"x":7.135,"y":-0.006},{"x":7.14,"y":-0.011},{"x":7.145,"y":-0.004},{"x":7.15,"y":-0.008},{"x":7.155,"y":-0.002},{"x":7.16,"y":0.001},{"x":7.165,"y":-0.003},{"x":7.169,"y":0.003}],
  "t7": [{"t":"0.005120 (n=262)","x":6.4586,"y":0.4468},{"t":"...Sort1DE2uMpH5.5-7.5krpm-250.xp","x":6.4586,"y":0.4292},{"t":"4.309e+04","x":6.4586,"y":0.349},{"t":"Baseline = 0.1923","x":6.4586,"y":0.3329},{"t":"t=25.0C,d=1.00600g/ml","x":6.4586,"y":0.3168},{"t":"6.6469 - 7.1689","x":6.4586,"y":0.2993},{"t":"6.491706","x":6.4586,"y":0.2833},{"t":"7.210000","x":6.4586,"y":0.2672},{"t":"c in xp#4","x":6.4586,"y":0.2161}],
  "a8": [{"x":6.49,"y":0.2327},{"x":6.506,"y":0.215},{"x":6.51,"y":0.203},{"x":6.52,"y":0.199},{"x":6.53,"y":0.204},{"x":6.54,"y":0.2},{"x":6.55,"y":0.206},{"x":6.56,"y":0.201},{"x":6.57,"y":0.198},{"x":6.58,"y":0.203},{"x":6.59,"y":0.2},{"x":6.6,"y":0.205},{"x":6.61,"y":0.201},{"x":6.62,"y":0.198},{"x":6.63,"y":0.204},{"x":6.64,"y":0.2},{"x":6.65,"y":0.207},{"x":6.66,"y":0.202},{"x":6.67,"y":0.199},{"x":6.68,"y":0.204},{"x":6.69,"y":0.2},{"x":6.7,"y":0.206},{"x":6.71,"y":0.201},{"x":6.72,"y":0.198},{"x":6.73,"y":0.205},{"x":6.74,"y":0.201},{"x":6.75,"y":0.204},{"x":6.76,"y":0.199},{"x":6.77,"y":0.206},{"x":6.78,"y":0.202},{"x":6.79,"y":0.205},{"x":6.8,"y":0.2},{"x":6.81,"y":0.207},{"x":6.82,"y":0.203},{"x":6.83,"y":0.2},{"x":6.84,"y":0.205},{"x":6.85,"y":0.202},{"x":6.86,"y":0.207},{"x":6.87,"y":0.203},{"x":6.88,"y":0.206},{"x":6.89,"y":0.201},{"x":6.9,"y":0.205},{"x":6.905,"y":0.201},{"x":6.91,"y":0.203},{"x":6.915,"y":0.207},{"x":6.92,"y":0.208},{"x":6.925,"y":0.203},{"x":6.93,"y":0.204},{"x":6.935,"y":0.208},{"x":6.94,"y":0.209},{"x":6.945,"y":0.205},{"x":6.95,"y":0.206},{"x":6.955,"y":0.21},{"x":6.96,"y":0.211},{"x":6.965,"y":0.207},{"x":6.97,"y":0.208},{"x":6.975,"y":0.213},{"x":6.98,"y":0.214},{"x":6.985,"y":0.21},{"x":6.99,"y":0.211},{"x":6.995,"y":0.217},{"x":7,"y":0.218},{"x":7.005,"y":0.215},{"x":7.01,"y":0.217},{"x":7.015,"y":0.222},{"x":7.02,"y":0.224},{"x":7.025,"y":0.223},{"x":7.03,"y":0.226},{"x":7.035,"y":0.232},{"x":7.04,"y":0.233},{"x":7.045,"y":0.236},{"x":7.05,"y":0.238},{"x":7.055,"y":0.245},{"x":7.06,"y":0.247},{"x":7.065,"y":0.252},{"x":7.07,"y":0.256},{"x":7.075,"y":0.263},{"x":7.08,"y":0.267},{"x":7.085,"y":0.275},{"x":7.09,"y":0.281},{"x":7.095,"y":0.29},{"x":7.1,"y":0.295},{"x":7.105,"y":0.306},{"x":7.11,"y":0.314},{"x":7.115,"y":0.326},{"x":7.12,"y":0.34},{"x":7.125,"y":0.356},{"x":7.13,"y":0.378},{"x":7.135,"y":0.403},{"x":7.14,"y":0.432},{"x":7.143,"y":0.452}],
  "f8": [{"x":6.8996,"y":0.204},{"x":6.95,"y":0.207},{"x":7,"y":0.216},{"x":7.03,"y":0.226},{"x":7.06,"y":0.245},{"x":7.08,"y":0.266},{"x":7.1,"y":0.295},{"x":7.115,"y":0.325},{"x":7.125,"y":0.355},{"x":7.135,"y":0.4},{"x":7.143,"y":0.45}],
  "r8": [{"x":6.9,"y":-0.004},{"x":6.905,"y":0.001},{"x":6.91,"y":-0.005},{"x":6.915,"y":0.002},{"x":6.92,"y":-0.003},{"x":6.925,"y":0.004},{"x":6.93,"y":-0.002},{"x":6.935,"y":0.005},{"x":6.94,"y":-0.001},{"x":6.945,"y":0.006},{"x":6.95,"y":0},{"x":6.955,"y":0.003},{"x":6.96,"y":-0.003},{"x":6.965,"y":0.005},{"x":6.97,"y":0},{"x":6.975,"y":0.006},{"x":6.98,"y":0.001},{"x":6.985,"y":0.004},{"x":6.99,"y":-0.002},{"x":6.995,"y":0.005},{"x":7,"y":0.001},{"x":7.005,"y":0.006},{"x":7.01,"y":0.002},{"x":7.015,"y":0.004},{"x":7.02,"y":0.001},{"x":7.025,"y":0.006},{"x":7.03,"y":0.002},{"x":7.035,"y":0.007},{"x":7.04,"y":0.003},{"x":7.045,"y":0.005},{"x":7.05,"y":0.002},{"x":7.055,"y":0.007},{"x":7.06,"y":0.004},{"x":7.065,"y":0.008},{"x":7.07,"y":0.003},{"x":7.075,"y":0.01},{"x":7.08,"y":0.004},{"x":7.085,"y":0.007},{"x":7.09,"y":0.001},{"x":7.095,"y":0.005},{"x":7.1,"y":-0.002},{"x":7.105,"y":0.004},{"x":7.11,"y":-0.003},{"x":7.115,"y":0.002},{"x":7.12,"y":-0.005},{"x":7.125,"y":0.001},{"x":7.13,"y":-0.006},{"x":7.135,"y":-0.008}],
  "t8": [{"t":"0.004266 (n=121)","x":6.347,"y":0.4313},{"t":"..._Sort1DE2uMpH5.5-14krpm-250.xp","x":6.347,"y":0.415},{"t":"4.309e+04","x":6.347,"y":0.3402},{"t":"Baseline = 0.2017","x":6.347,"y":0.3252},{"t":"t=25.0C,d=1.00600g/ml","x":6.347,"y":0.3103},{"t":"6.8996 - 7.1350","x":6.347,"y":0.2939},{"t":"6.500333","x":6.347,"y":0.279},{"t":"7.200124","x":6.347,"y":0.264},{"t":"c in xp#4","x":6.347,"y":0.2164}]
},
"concat": [
{"width":228,"height":179,"encoding":{"x":{"field":"x","type":"quantitative","scale":{"domain":[6.513,7.214]},"axis":null}},"resolve":{"axis":{"x":"independent","y":"independent"}},"layer":[
 {"data":{"values":[{"x":6.5565},{"x":7.0596}]},"mark":{"type":"rule","color":"#8cc063","strokeWidth":1.5},"encoding":{}},
 {"data":{"values":[{"x":6.521848}]},"mark":{"type":"rule","color":"#e0403c","strokeDash":[5,2,1,2]},"encoding":{}},
 {"data":{"values":[{"x":7.202984}]},"mark":{"type":"rule","color":"#6f78c8","strokeWidth":1.5},"encoding":{}},
 {"data":{"name":"f1"},"mark":{"type":"line","color":"#d42a2a","strokeWidth":1},"encoding":{"x":{"field":"x","type":"quantitative","scale":{"domain":[6.513,7.214]},"axis":{"orient":"bottom","values":[6.48,6.5,6.52,6.54,6.56,6.58,6.6,6.62,6.64,6.66,6.68,6.7,6.72,6.74,6.76,6.78,6.8,6.82,6.84,6.86,6.88,6.9,6.92,6.94,6.96,6.98,7,7.02,7.04,7.06,7.08,7.1,7.12,7.14,7.16,7.18,7.2,7.22],"labels":false,"tickSize":-3,"title":null}},"y":{"field":"y","type":"quantitative","scale":{"domain":[0.0707,0.309]},"axis":{"orient":"left","values":[0.1,0.2,0.3],"labelExpr":"datum.value < 0.15 ? '0.1' : ''","tickSize":4,"title":null}}}},
 {"data":{"name":"a1"},"mark":{"type":"circle"},"encoding":{"x":{"field":"x","type":"quantitative","scale":{"domain":[6.513,7.214]},"axis":{"orient":"top","values":[6.48,6.5,6.52,6.54,6.56,6.58,6.6,6.62,6.64,6.66,6.68,6.7,6.72,6.74,6.76,6.78,6.8,6.82,6.84,6.86,6.88,6.9,6.92,6.94,6.96,6.98,7,7.02,7.04,7.06,7.08,7.1,7.12,7.14,7.16,7.18,7.2,7.22],"labels":false,"tickSize":-3,"title":null}},"y":{"field":"y","type":"quantitative","scale":{"domain":[0.0707,0.309]},"axis":{"orient":"left","values":[0.08,0.12,0.14,0.16,0.18,0.22,0.24,0.26,0.28],"labels":false,"domain":false,"tickSize":-3,"title":null}}}},
 {"data":{"name":"t1"},"mark":{"type":"text","align":"left","baseline":"middle","fontSize":8.5,"fontWeight":"bold","color":"#111"},"encoding":{"y":{"field":"y","type":"quantitative","scale":{"domain":[0.0707,0.309]},"axis":null},"text":{"field":"t"}}},
 {"data":{"values":[{"x":7.19,"y":0.3037,"n":"1"}]},"encoding":{"y":{"field":"y","type":"quantitative","scale":{"domain":[0.0707,0.309]},"axis":null}},"layer":[{"mark":{"type":"square","size":130,"filled":true,"fill":"#a9c9ef","stroke":"#3f6fb8","strokeWidth":1,"opacity":1}},{"mark":{"type":"text","fontSize":8,"color":"#1a3a7a"},"encoding":{"text":{"field":"n"}}}]}
]},
{"width":211,"height":179,"encoding":{"x":{"field":"x","type":"quantitative","scale":{"domain":[6.519,7.201]},"axis":null}},"resolve":{"axis":{"x":"independent","y":"independent"}},"layer":[
 {"data":{"values":[{"x":6.8384},{"x":7.074}]},"mark":{"type":"rule","color":"#8cc063","strokeWidth":1.5},"encoding":{}},
 {"data":{"values":[{"x":6.525815}]},"mark":{"type":"rule","color":"#e0403c","strokeDash":[4,3]},"encoding":{}},
 {"data":{"values":[{"x":7.197779}]},"mark":{"type":"rule","color":"#6f78c8","strokeWidth":1.5},"encoding":{}},
 {"data":{"name":"f2"},"mark":{"type":"line","color":"#d42a2a","strokeWidth":1},"encoding":{"x":{"field":"x","type":"quantitative","scale":{"domain":[6.519,7.201]},"axis":{"orient":"bottom","values":[6.48,6.5,6.52,6.54,6.56,6.58,6.6,6.62,6.64,6.66,6.68,6.7,6.72,6.74,6.76,6.78,6.8,6.82,6.84,6.86,6.88,6.9,6.92,6.94,6.96,6.98,7,7.02,7.04,7.06,7.08,7.1,7.12,7.14,7.16,7.18,7.2,7.22],"labels":false,"tickSize":-3,"title":null}},"y":{"field":"y","type":"quantitative","scale":{"domain":[0.016,0.2257]},"axis":{"orient":"left","values":[0.05,0.1,0.15,0.2],"labelExpr":"format(datum.value,'~g')","tickSize":4,"title":null}}}},
 {"data":{"name":"a2"},"mark":{"type":"circle"},"encoding":{"x":{"field":"x","type":"quantitative","scale":{"domain":[6.519,7.201]},"axis":{"orient":"top","values":[6.48,6.5,6.52,6.54,6.56,6.58,6.6,6.62,6.64,6.66,6.68,6.7,6.72,6.74,6.76,6.78,6.8,6.82,6.84,6.86,6.88,6.9,6.92,6.94,6.96,6.98,7,7.02,7.04,7.06,7.08,7.1,7.12,7.14,7.16,7.18,7.2,7.22],"labels":false,"tickSize":-3,"title":null}},"y":{"field":"y","type":"quantitative","scale":{"domain":[0.016,0.2257]},"axis":{"orient":"left","values":[0.02,0.03,0.04,0.06,0.07,0.08,0.09,0.11,0.12,0.13,0.14,0.16,0.17,0.18,0.19,0.21,0.22],"labels":false,"domain":false,"tickSize":-3,"title":null}}}},
 {"data":{"name":"t2"},"mark":{"type":"text","align":"left","baseline":"middle","fontSize":8.5,"fontWeight":"bold","color":"#111"},"encoding":{"y":{"field":"y","type":"quantitative","scale":{"domain":[0.016,0.2257]},"axis":null},"text":{"field":"t"}}},
 {"data":{"values":[{"x":7.177,"y":0.221,"n":"2"}]},"encoding":{"y":{"field":"y","type":"quantitative","scale":{"domain":[0.016,0.2257]},"axis":null}},"layer":[{"mark":{"type":"square","size":130,"filled":true,"fill":"#a9c9ef","stroke":"#3f6fb8","strokeWidth":1,"opacity":1}},{"mark":{"type":"text","fontSize":8,"color":"#1a3a7a"},"encoding":{"text":{"field":"n"}}}]}
]},
{"width":212,"height":179,"encoding":{"x":{"field":"x","type":"quantitative","scale":{"domain":[6.485,7.2]},"axis":null}},"resolve":{"axis":{"x":"independent","y":"independent"}},"layer":[
 {"data":{"values":[{"x":6.5119},{"x":6.8715}]},"mark":{"type":"rule","color":"#8cc063","strokeWidth":1.5},"encoding":{}},
 {"data":{"values":[{"x":6.489849}]},"mark":{"type":"rule","color":"#e0606a","strokeWidth":1.5},"encoding":{}},
 {"data":{"values":[{"x":7.195716}]},"mark":{"type":"rule","color":"#6f78c8","strokeWidth":1.5},"encoding":{}},
 {"data":{"name":"f3"},"mark":{"type":"line","color":"#d42a2a","strokeWidth":1},"encoding":{"x":{"field":"x","type":"quantitative","scale":{"domain":[6.485,7.2]},"axis":{"orient":"bottom","values":[6.48,6.5,6.52,6.54,6.56,6.58,6.6,6.62,6.64,6.66,6.68,6.7,6.72,6.74,6.76,6.78,6.8,6.82,6.84,6.86,6.88,6.9,6.92,6.94,6.96,6.98,7,7.02,7.04,7.06,7.08,7.1,7.12,7.14,7.16,7.18,7.2,7.22],"labels":false,"tickSize":-3,"title":null}},"y":{"field":"y","type":"quantitative","scale":{"domain":[0.1,0.9]},"axis":{"orient":"left","values":[0.2,0.3,0.4,0.5,0.6,0.7,0.8,0.9],"labelExpr":"format(datum.value,'~g')","tickSize":4,"title":null}}}},
 {"data":{"name":"a3"},"mark":{"type":"circle"},"encoding":{"x":{"field":"x","type":"quantitative","scale":{"domain":[6.485,7.2]},"axis":{"orient":"top","values":[6.48,6.5,6.52,6.54,6.56,6.58,6.6,6.62,6.64,6.66,6.68,6.7,6.72,6.74,6.76,6.78,6.8,6.82,6.84,6.86,6.88,6.9,6.92,6.94,6.96,6.98,7,7.02,7.04,7.06,7.08,7.1,7.12,7.14,7.16,7.18,7.2,7.22],"labels":false,"tickSize":-3,"title":null}},"y":{"field":"y","type":"quantitative","scale":{"domain":[0.1,0.9]},"axis":{"orient":"left","values":[0.12,0.14,0.16,0.18,0.22,0.24,0.26,0.28,0.32,0.34,0.36,0.38,0.42,0.44,0.46,0.48,0.52,0.54,0.56,0.58,0.62,0.64,0.66,0.68,0.72,0.74,0.76,0.78,0.82,0.84,0.86,0.88],"labels":false,"domain":false,"tickSize":-3,"title":null}}}},
 {"data":{"name":"t3"},"mark":{"type":"text","align":"left","baseline":"middle","fontSize":8.5,"fontWeight":"bold","color":"#111"},"encoding":{"y":{"field":"y","type":"quantitative","scale":{"domain":[0.1,0.9]},"axis":null},"text":{"field":"t"}}},
 {"data":{"values":[{"x":7.192,"y":0.882,"n":"3"}]},"encoding":{"y":{"field":"y","type":"quantitative","scale":{"domain":[0.1,0.9]},"axis":null}},"layer":[{"mark":{"type":"square","size":130,"filled":true,"fill":"#a9c9ef","stroke":"#3f6fb8","strokeWidth":1,"opacity":1}},{"mark":{"type":"text","fontSize":8,"color":"#1a3a7a"},"encoding":{"text":{"field":"n"}}}]}
]},
{"width":225,"height":179,"encoding":{"x":{"field":"x","type":"quantitative","scale":{"domain":[6.485,7.2]},"axis":null}},"resolve":{"axis":{"x":"independent","y":"independent"}},"layer":[
 {"data":{"values":[{"x":6.7148},{"x":7.147}]},"mark":{"type":"rule","color":"#8cc063","strokeWidth":1.5},"encoding":{}},
 {"data":{"values":[{"x":6.498088}]},"mark":{"type":"rule","color":"#eaa2aa","strokeWidth":3},"encoding":{}},
 {"data":{"values":[{"x":6.52}]},"mark":{"type":"rule","color":"#9a9a9a","strokeDash":[1,2]},"encoding":{}},
 {"data":{"values":[{"x":7.195}]},"mark":{"type":"rule","color":"#6f78c8","strokeWidth":1.5},"encoding":{}},
 {"data":{"name":"f4"},"mark":{"type":"line","color":"#d42a2a","strokeWidth":1},"encoding":{"x":{"field":"x","type":"quantitative","scale":{"domain":[6.485,7.2]},"axis":{"orient":"bottom","values":[6.48,6.5,6.52,6.54,6.56,6.58,6.6,6.62,6.64,6.66,6.68,6.7,6.72,6.74,6.76,6.78,6.8,6.82,6.84,6.86,6.88,6.9,6.92,6.94,6.96,6.98,7,7.02,7.04,7.06,7.08,7.1,7.12,7.14,7.16,7.18,7.2,7.22],"labels":false,"tickSize":-3,"title":null}},"y":{"field":"y","type":"quantitative","scale":{"domain":[0.146,0.713]},"axis":{"orient":"left","values":[0.2,0.3,0.4,0.5,0.6,0.7],"labelExpr":"(datum.value == 0.2 || datum.value == 0.5 || datum.value == 0.7) ? format(datum.value,'~g') : ''","tickSize":4,"title":null}}}},
 {"data":{"name":"a4"},"mark":{"type":"circle"},"encoding":{"x":{"field":"x","type":"quantitative","scale":{"domain":[6.485,7.2]},"axis":{"orient":"top","values":[6.48,6.5,6.52,6.54,6.56,6.58,6.6,6.62,6.64,6.66,6.68,6.7,6.72,6.74,6.76,6.78,6.8,6.82,6.84,6.86,6.88,6.9,6.92,6.94,6.96,6.98,7,7.02,7.04,7.06,7.08,7.1,7.12,7.14,7.16,7.18,7.2,7.22],"labels":false,"tickSize":-3,"title":null}},"y":{"field":"y","type":"quantitative","scale":{"domain":[0.146,0.713]},"axis":{"orient":"left","values":[0.16,0.18,0.22,0.24,0.26,0.28,0.32,0.34,0.36,0.38,0.42,0.44,0.46,0.48,0.52,0.54,0.56,0.58,0.62,0.64,0.66,0.68],"labels":false,"domain":false,"tickSize":-3,"title":null}}}},
 {"data":{"name":"t4"},"mark":{"type":"text","align":"left","baseline":"middle","fontSize":8.5,"fontWeight":"bold","color":"#111"},"encoding":{"y":{"field":"y","type":"quantitative","scale":{"domain":[0.146,0.713]},"axis":null},"text":{"field":"t"}}},
 {"data":{"values":[{"x":7.184,"y":0.7,"n":"4"}]},"encoding":{"y":{"field":"y","type":"quantitative","scale":{"domain":[0.146,0.713]},"axis":null}},"layer":[{"mark":{"type":"square","size":130,"filled":true,"fill":"#a9c9ef","stroke":"#3f6fb8","strokeWidth":1,"opacity":1}},{"mark":{"type":"text","fontSize":8,"color":"#1a3a7a"},"encoding":{"text":{"field":"n"}}}]}
]},
{"width":228,"height":86,"resolve":{"axis":{"x":"independent"}},"layer":[
 {"data":{"name":"r1"},"mark":{"type":"line","color":"#d4303c","strokeWidth":1},"encoding":{"x":{"field":"x","type":"quantitative","scale":{"domain":[6.513,7.214]},"axis":{"orient":"bottom","offset":-21,"values":[6.48,6.5,6.52,6.54,6.56,6.58,6.6,6.62,6.64,6.66,6.68,6.7,6.72,6.74,6.76,6.78,6.8,6.82,6.84,6.86,6.88,6.9,6.92,6.94,6.96,6.98,7,7.02,7.04,7.06,7.08,7.1,7.12,7.14,7.16,7.18,7.2,7.22],"labelExpr":"abs(datum.value*10-round(datum.value*10))<0.01 ? format(datum.value,'~g') : ''","labelPadding":6,"tickSize":-3,"title":null}},"y":{"field":"y","type":"quantitative","scale":{"domain":[-0.0166,0.0206],"range":[65,0]},"axis":{"orient":"left","values":[-0.01,0,0.01],"labelExpr":"replace(format(datum.value,'~g'),'−','-')","tickSize":4,"title":null}}}},
 {"data":{"name":"r1"},"mark":{"type":"line","opacity":0},"encoding":{"x":{"field":"x","type":"quantitative","scale":{"domain":[6.513,7.214]},"axis":{"orient":"top","values":[6.48,6.5,6.52,6.54,6.56,6.58,6.6,6.62,6.64,6.66,6.68,6.7,6.72,6.74,6.76,6.78,6.8,6.82,6.84,6.86,6.88,6.9,6.92,6.94,6.96,6.98,7,7.02,7.04,7.06,7.08,7.1,7.12,7.14,7.16,7.18,7.2,7.22],"labels":false,"domain":false,"tickSize":-3,"title":null}},"y":{"field":"y","type":"quantitative","scale":{"domain":[-0.0166,0.0206],"range":[65,0]},"axis":null}}},
 {"data":{"values":[{"t":"c(uM)= 9.015, n = 2.0","x":6.467,"y":0.0189}]},"mark":{"type":"text","align":"left","baseline":"middle","fontSize":8.5,"fontWeight":"bold","color":"#111"},"encoding":{"x":{"field":"x","type":"quantitative","scale":{"domain":[6.513,7.214]},"axis":null},"y":{"field":"y","type":"quantitative","scale":{"domain":[-0.0166,0.0206],"range":[65,0]},"axis":null},"text":{"field":"t"}}}
]},
{"width":211,"height":86,"resolve":{"axis":{"x":"independent"}},"layer":[
 {"data":{"name":"r2"},"mark":{"type":"line","color":"#d4303c","strokeWidth":1},"encoding":{"x":{"field":"x","type":"quantitative","scale":{"domain":[6.519,7.201]},"axis":{"orient":"bottom","offset":-21,"values":[6.48,6.5,6.52,6.54,6.56,6.58,6.6,6.62,6.64,6.66,6.68,6.7,6.72,6.74,6.76,6.78,6.8,6.82,6.84,6.86,6.88,6.9,6.92,6.94,6.96,6.98,7,7.02,7.04,7.06,7.08,7.1,7.12,7.14,7.16,7.18,7.2,7.22],"labelExpr":"abs(datum.value*10-round(datum.value*10))<0.01 ? format(datum.value,'~g') : ''","labelPadding":6,"tickSize":-3,"title":null}},"y":{"field":"y","type":"quantitative","scale":{"domain":[-0.0122,0.0161],"range":[65,0]},"axis":{"orient":"left","values":[-0.01,0,0.01],"labelExpr":"replace(format(datum.value,'~g'),'−','-')","tickSize":4,"title":null}}}},
 {"data":{"name":"r2"},"mark":{"type":"line","opacity":0},"encoding":{"x":{"field":"x","type":"quantitative","scale":{"domain":[6.519,7.201]},"axis":{"orient":"top","values":[6.48,6.5,6.52,6.54,6.56,6.58,6.6,6.62,6.64,6.66,6.68,6.7,6.72,6.74,6.76,6.78,6.8,6.82,6.84,6.86,6.88,6.9,6.92,6.94,6.96,6.98,7,7.02,7.04,7.06,7.08,7.1,7.12,7.14,7.16,7.18,7.2,7.22],"labels":false,"domain":false,"tickSize":-3,"title":null}},"y":{"field":"y","type":"quantitative","scale":{"domain":[-0.0122,0.0161],"range":[65,0]},"axis":null}}},
 {"data":{"values":[{"t":"c in xp#1","x":6.616,"y":0.0148}]},"mark":{"type":"text","align":"left","baseline":"middle","fontSize":8.5,"fontWeight":"bold","color":"#111"},"encoding":{"x":{"field":"x","type":"quantitative","scale":{"domain":[6.519,7.201]},"axis":null},"y":{"field":"y","type":"quantitative","scale":{"domain":[-0.0122,0.0161],"range":[65,0]},"axis":null},"text":{"field":"t"}}}
]},
{"width":212,"height":86,"resolve":{"axis":{"x":"independent"}},"layer":[
 {"data":{"name":"r3"},"mark":{"type":"line","color":"#d4303c","strokeWidth":1},"encoding":{"x":{"field":"x","type":"quantitative","scale":{"domain":[6.485,7.2]},"axis":{"orient":"bottom","offset":-21,"values":[6.48,6.5,6.52,6.54,6.56,6.58,6.6,6.62,6.64,6.66,6.68,6.7,6.72,6.74,6.76,6.78,6.8,6.82,6.84,6.86,6.88,6.9,6.92,6.94,6.96,6.98,7,7.02,7.04,7.06,7.08,7.1,7.12,7.14,7.16,7.18,7.2,7.22],"labelExpr":"abs(datum.value*10-round(datum.value*10))<0.01 ? format(datum.value,'~g') : ''","labelPadding":6,"tickSize":-3,"title":null}},"y":{"field":"y","type":"quantitative","scale":{"domain":[-0.0207,0.0274],"range":[65,0]},"axis":{"orient":"left","values":[-0.02,-0.01,0,0.01,0.02],"labelExpr":"replace(format(datum.value,'~g'),'−','-')","tickSize":4,"title":null}}}},
 {"data":{"name":"r3"},"mark":{"type":"line","opacity":0},"encoding":{"x":{"field":"x","type":"quantitative","scale":{"domain":[6.485,7.2]},"axis":{"orient":"top","values":[6.48,6.5,6.52,6.54,6.56,6.58,6.6,6.62,6.64,6.66,6.68,6.7,6.72,6.74,6.76,6.78,6.8,6.82,6.84,6.86,6.88,6.9,6.92,6.94,6.96,6.98,7,7.02,7.04,7.06,7.08,7.1,7.12,7.14,7.16,7.18,7.2,7.22],"labels":false,"domain":false,"tickSize":-3,"title":null}},"y":{"field":"y","type":"quantitative","scale":{"domain":[-0.0207,0.0274],"range":[65,0]},"axis":null}}},
 {"data":{"values":[{"t":"61.958","x":6.4715,"y":0.0252}]},"mark":{"type":"text","align":"left","baseline":"middle","fontSize":8.5,"fontWeight":"bold","color":"#111"},"encoding":{"x":{"field":"x","type":"quantitative","scale":{"domain":[6.485,7.2]},"axis":null},"y":{"field":"y","type":"quantitative","scale":{"domain":[-0.0207,0.0274],"range":[65,0]},"axis":null},"text":{"field":"t"}}}
]},
{"width":225,"height":86,"resolve":{"axis":{"x":"independent"}},"layer":[
 {"data":{"name":"r4"},"mark":{"type":"line","color":"#d4303c","strokeWidth":1},"encoding":{"x":{"field":"x","type":"quantitative","scale":{"domain":[6.485,7.2]},"axis":{"orient":"bottom","offset":-21,"values":[6.48,6.5,6.52,6.54,6.56,6.58,6.6,6.62,6.64,6.66,6.68,6.7,6.72,6.74,6.76,6.78,6.8,6.82,6.84,6.86,6.88,6.9,6.92,6.94,6.96,6.98,7,7.02,7.04,7.06,7.08,7.1,7.12,7.14,7.16,7.18,7.2,7.22],"labelExpr":"abs(datum.value*10-round(datum.value*10))<0.01 ? format(datum.value,'~g') : ''","labelPadding":6,"tickSize":-3,"title":null}},"y":{"field":"y","type":"quantitative","scale":{"domain":[-0.00815,0.01455],"range":[65,0]},"axis":{"orient":"left","values":[-0.005,0,0.005,0.01],"labelExpr":"replace(format(datum.value,'~g'),'−','-')","tickSize":4,"title":null}}}},
 {"data":{"name":"r4"},"mark":{"type":"line","opacity":0},"encoding":{"x":{"field":"x","type":"quantitative","scale":{"domain":[6.485,7.2]},"axis":{"orient":"top","values":[6.48,6.5,6.52,6.54,6.56,6.58,6.6,6.62,6.64,6.66,6.68,6.7,6.72,6.74,6.76,6.78,6.8,6.82,6.84,6.86,6.88,6.9,6.92,6.94,6.96,6.98,7,7.02,7.04,7.06,7.08,7.1,7.12,7.14,7.16,7.18,7.2,7.22],"labels":false,"domain":false,"tickSize":-3,"title":null}},"y":{"field":"y","type":"quantitative","scale":{"domain":[-0.00815,0.01455],"range":[65,0]},"axis":null}}},
 {"data":{"values":[{"t":"1.577","x":6.31,"y":0.0135}]},"mark":{"type":"text","align":"left","baseline":"middle","fontSize":8.5,"fontWeight":"bold","color":"#111"},"encoding":{"x":{"field":"x","type":"quantitative","scale":{"domain":[6.485,7.2]},"axis":null},"y":{"field":"y","type":"quantitative","scale":{"domain":[-0.00815,0.01455],"range":[65,0]},"axis":null},"text":{"field":"t"}}}
]},
{"width":228,"height":197,"encoding":{"x":{"field":"x","type":"quantitative","scale":{"domain":[6.487,7.213]},"axis":null}},"resolve":{"axis":{"x":"independent","y":"independent"}},"layer":[
 {"data":{"values":[{"x":6.9403},{"x":7.1329}]},"mark":{"type":"rule","color":"#8cc063","strokeWidth":1.5},"encoding":{}},
 {"data":{"values":[{"x":6.503623}]},"mark":{"type":"rule","color":"#e0403c","strokeWidth":1.5},"encoding":{}},
 {"data":{"values":[{"x":6.525}]},"mark":{"type":"rule","color":"#9a9a9a","strokeDash":[1,2]},"encoding":{}},
 {"data":{"values":[{"x":7.196213}]},"mark":{"type":"rule","color":"#6f78c8","strokeWidth":1.5},"encoding":{}},
 {"data":{"name":"f5"},"mark":{"type":"line","color":"#d42a2a","strokeWidth":1},"encoding":{"x":{"field":"x","type":"quantitative","scale":{"domain":[6.487,7.213]},"axis":{"orient":"bottom","values":[6.48,6.5,6.52,6.54,6.56,6.58,6.6,6.62,6.64,6.66,6.68,6.7,6.72,6.74,6.76,6.78,6.8,6.82,6.84,6.86,6.88,6.9,6.92,6.94,6.96,6.98,7,7.02,7.04,7.06,7.08,7.1,7.12,7.14,7.16,7.18,7.2,7.22],"labels":false,"tickSize":-3,"title":null}},"y":{"field":"y","type":"quantitative","scale":{"domain":[0.107,0.738]},"axis":{"orient":"left","values":[0.2,0.3,0.4,0.5,0.6,0.7],"labelExpr":"format(datum.value,'~g')","tickSize":4,"title":null}}}},
 {"data":{"name":"a5"},"mark":{"type":"circle"},"encoding":{"x":{"field":"x","type":"quantitative","scale":{"domain":[6.487,7.213]},"axis":{"orient":"top","values":[6.48,6.5,6.52,6.54,6.56,6.58,6.6,6.62,6.64,6.66,6.68,6.7,6.72,6.74,6.76,6.78,6.8,6.82,6.84,6.86,6.88,6.9,6.92,6.94,6.96,6.98,7,7.02,7.04,7.06,7.08,7.1,7.12,7.14,7.16,7.18,7.2,7.22],"labels":false,"tickSize":-3,"title":null}},"y":{"field":"y","type":"quantitative","scale":{"domain":[0.107,0.738]},"axis":{"orient":"left","values":[0.12,0.14,0.16,0.18,0.22,0.24,0.26,0.28,0.32,0.34,0.36,0.38,0.42,0.44,0.46,0.48,0.52,0.54,0.56,0.58,0.62,0.64,0.66,0.68,0.72],"labels":false,"domain":false,"tickSize":-3,"title":null}}}},
 {"data":{"name":"t5"},"mark":{"type":"text","align":"left","baseline":"middle","fontSize":8.5,"fontWeight":"bold","color":"#111"},"encoding":{"y":{"field":"y","type":"quantitative","scale":{"domain":[0.107,0.738]},"axis":null},"text":{"field":"t"}}},
 {"data":{"values":[{"x":7.197,"y":0.7188,"n":"5"}]},"encoding":{"y":{"field":"y","type":"quantitative","scale":{"domain":[0.107,0.738]},"axis":null}},"layer":[{"mark":{"type":"square","size":130,"filled":true,"fill":"#a9c9ef","stroke":"#3f6fb8","strokeWidth":1,"opacity":1}},{"mark":{"type":"text","fontSize":8,"color":"#1a3a7a"},"encoding":{"text":{"field":"n"}}}]}
]},
{"width":211,"height":197,"encoding":{"x":{"field":"x","type":"quantitative","scale":{"domain":[6.49,7.201]},"axis":null}},"resolve":{"axis":{"x":"independent","y":"independent"}},"layer":[
 {"data":{"values":[{"x":6.946},{"x":7.1178}]},"mark":{"type":"rule","color":"#8cc063","strokeWidth":1.5},"encoding":{}},
 {"data":{"values":[{"x":6.505348}]},"mark":{"type":"rule","color":"#e0403c","strokeWidth":1.5},"encoding":{}},
 {"data":{"values":[{"x":6.527}]},"mark":{"type":"rule","color":"#9a9a9a","strokeDash":[1,2]},"encoding":{}},
 {"data":{"values":[{"x":7.195}]},"mark":{"type":"rule","color":"#6f78c8","strokeWidth":1.5},"encoding":{}},
 {"data":{"name":"f6"},"mark":{"type":"line","color":"#d42a2a","strokeWidth":1},"encoding":{"x":{"field":"x","type":"quantitative","scale":{"domain":[6.49,7.201]},"axis":{"orient":"bottom","values":[6.48,6.5,6.52,6.54,6.56,6.58,6.6,6.62,6.64,6.66,6.68,6.7,6.72,6.74,6.76,6.78,6.8,6.82,6.84,6.86,6.88,6.9,6.92,6.94,6.96,6.98,7,7.02,7.04,7.06,7.08,7.1,7.12,7.14,7.16,7.18,7.2,7.22],"labels":false,"tickSize":-3,"title":null}},"y":{"field":"y","type":"quantitative","scale":{"domain":[0.1156,0.3344]},"axis":{"orient":"left","values":[0.15,0.2,0.25,0.3],"labelExpr":"format(datum.value,'~g')","tickSize":4,"title":null}}}},
 {"data":{"name":"a6"},"mark":{"type":"circle"},"encoding":{"x":{"field":"x","type":"quantitative","scale":{"domain":[6.49,7.201]},"axis":{"orient":"top","values":[6.48,6.5,6.52,6.54,6.56,6.58,6.6,6.62,6.64,6.66,6.68,6.7,6.72,6.74,6.76,6.78,6.8,6.82,6.84,6.86,6.88,6.9,6.92,6.94,6.96,6.98,7,7.02,7.04,7.06,7.08,7.1,7.12,7.14,7.16,7.18,7.2,7.22],"labels":false,"tickSize":-3,"title":null}},"y":{"field":"y","type":"quantitative","scale":{"domain":[0.1156,0.3344]},"axis":{"orient":"left","values":[0.12,0.13,0.14,0.16,0.17,0.18,0.19,0.21,0.22,0.23,0.24,0.26,0.27,0.28,0.29,0.31,0.32,0.33],"labels":false,"domain":false,"tickSize":-3,"title":null}}}},
 {"data":{"name":"t6"},"mark":{"type":"text","align":"left","baseline":"middle","fontSize":8.5,"fontWeight":"bold","color":"#111"},"encoding":{"y":{"field":"y","type":"quantitative","scale":{"domain":[0.1156,0.3344]},"axis":null},"text":{"field":"t"}}},
 {"data":{"values":[{"x":7.177,"y":0.3277,"n":"6"}]},"encoding":{"y":{"field":"y","type":"quantitative","scale":{"domain":[0.1156,0.3344]},"axis":null}},"layer":[{"mark":{"type":"square","size":130,"filled":true,"fill":"#a9c9ef","stroke":"#3f6fb8","strokeWidth":1,"opacity":1}},{"mark":{"type":"text","fontSize":8,"color":"#1a3a7a"},"encoding":{"text":{"field":"n"}}}]}
]},
{"width":212,"height":197,"encoding":{"x":{"field":"x","type":"quantitative","scale":{"domain":[6.476,7.215]},"axis":null}},"resolve":{"axis":{"x":"independent","y":"independent"}},"layer":[
 {"data":{"values":[{"x":6.6469},{"x":7.1689}]},"mark":{"type":"rule","color":"#8cc063","strokeWidth":1.5},"encoding":{}},
 {"data":{"values":[{"x":6.491706}]},"mark":{"type":"rule","color":"#e0606a","strokeWidth":1.5},"encoding":{}},
 {"data":{"values":[{"x":7.21}]},"mark":{"type":"rule","color":"#6f78c8","strokeWidth":1.5},"encoding":{}},
 {"data":{"name":"f7"},"mark":{"type":"line","color":"#d42a2a","strokeWidth":1},"encoding":{"x":{"field":"x","type":"quantitative","scale":{"domain":[6.476,7.215]},"axis":{"orient":"bottom","values":[6.48,6.5,6.52,6.54,6.56,6.58,6.6,6.62,6.64,6.66,6.68,6.7,6.72,6.74,6.76,6.78,6.8,6.82,6.84,6.86,6.88,6.9,6.92,6.94,6.96,6.98,7,7.02,7.04,7.06,7.08,7.1,7.12,7.14,7.16,7.18,7.2,7.22],"labels":false,"tickSize":-3,"title":null}},"y":{"field":"y","type":"quantitative","scale":{"domain":[0.1927,0.4818]},"axis":{"orient":"left","values":[0.2,0.3,0.4],"labelExpr":"format(datum.value,'~g')","tickSize":4,"title":null}}}},
 {"data":{"name":"a7"},"mark":{"type":"circle"},"encoding":{"x":{"field":"x","type":"quantitative","scale":{"domain":[6.476,7.215]},"axis":{"orient":"top","values":[6.48,6.5,6.52,6.54,6.56,6.58,6.6,6.62,6.64,6.66,6.68,6.7,6.72,6.74,6.76,6.78,6.8,6.82,6.84,6.86,6.88,6.9,6.92,6.94,6.96,6.98,7,7.02,7.04,7.06,7.08,7.1,7.12,7.14,7.16,7.18,7.2,7.22],"labels":false,"tickSize":-3,"title":null}},"y":{"field":"y","type":"quantitative","scale":{"domain":[0.1927,0.4818]},"axis":{"orient":"left","values":[0.22,0.24,0.26,0.28,0.32,0.34,0.36,0.38,0.42,0.44,0.46,0.48],"labels":false,"domain":false,"tickSize":-3,"title":null}}}},
 {"data":{"name":"t7"},"mark":{"type":"text","align":"left","baseline":"middle","fontSize":8.5,"fontWeight":"bold","color":"#111"},"encoding":{"y":{"field":"y","type":"quantitative","scale":{"domain":[0.1927,0.4818]},"axis":null},"text":{"field":"t"}}},
 {"data":{"values":[{"x":7.194,"y":0.4745,"n":"7"}]},"encoding":{"y":{"field":"y","type":"quantitative","scale":{"domain":[0.1927,0.4818]},"axis":null}},"layer":[{"mark":{"type":"square","size":130,"filled":true,"fill":"#a9c9ef","stroke":"#3f6fb8","strokeWidth":1,"opacity":1}},{"mark":{"type":"text","fontSize":8,"color":"#1a3a7a"},"encoding":{"text":{"field":"n"}}}]}
]},
{"width":225,"height":197,"encoding":{"x":{"field":"x","type":"quantitative","scale":{"domain":[6.49,7.204]},"axis":null}},"resolve":{"axis":{"x":"independent","y":"independent"}},"layer":[
 {"data":{"values":[{"x":6.8996},{"x":7.135}]},"mark":{"type":"rule","color":"#8cc063","strokeWidth":1.5},"encoding":{}},
 {"data":{"values":[{"x":6.500333}]},"mark":{"type":"rule","color":"#eaa2aa","strokeWidth":3},"encoding":{}},
 {"data":{"values":[{"x":6.528}]},"mark":{"type":"rule","color":"#9a9a9a","strokeDash":[1,2]},"encoding":{}},
 {"data":{"values":[{"x":7.200124}]},"mark":{"type":"rule","color":"#6f78c8","strokeWidth":1.5},"encoding":{}},
 {"data":{"name":"f8"},"mark":{"type":"line","color":"#d42a2a","strokeWidth":1},"encoding":{"x":{"field":"x","type":"quantitative","scale":{"domain":[6.49,7.204]},"axis":{"orient":"bottom","values":[6.48,6.5,6.52,6.54,6.56,6.58,6.6,6.62,6.64,6.66,6.68,6.7,6.72,6.74,6.76,6.78,6.8,6.82,6.84,6.86,6.88,6.9,6.92,6.94,6.96,6.98,7,7.02,7.04,7.06,7.08,7.1,7.12,7.14,7.16,7.18,7.2,7.22],"labels":false,"tickSize":-3,"title":null}},"y":{"field":"y","type":"quantitative","scale":{"domain":[0.196,0.464]},"axis":{"orient":"left","values":[0.2,0.3,0.4],"labelExpr":"datum.value == 0.3 ? '' : format(datum.value,'~g')","tickSize":4,"title":null}}}},
 {"data":{"name":"a8"},"mark":{"type":"circle"},"encoding":{"x":{"field":"x","type":"quantitative","scale":{"domain":[6.49,7.204]},"axis":{"orient":"top","values":[6.48,6.5,6.52,6.54,6.56,6.58,6.6,6.62,6.64,6.66,6.68,6.7,6.72,6.74,6.76,6.78,6.8,6.82,6.84,6.86,6.88,6.9,6.92,6.94,6.96,6.98,7,7.02,7.04,7.06,7.08,7.1,7.12,7.14,7.16,7.18,7.2,7.22],"labels":false,"tickSize":-3,"title":null}},"y":{"field":"y","type":"quantitative","scale":{"domain":[0.196,0.464]},"axis":{"orient":"left","values":[0.22,0.24,0.26,0.28,0.32,0.34,0.36,0.38,0.42,0.44,0.46],"labels":false,"domain":false,"tickSize":-3,"title":null}}}},
 {"data":{"name":"t8"},"mark":{"type":"text","align":"left","baseline":"middle","fontSize":8.5,"fontWeight":"bold","color":"#111"},"encoding":{"y":{"field":"y","type":"quantitative","scale":{"domain":[0.196,0.464]},"axis":null},"text":{"field":"t"}}},
 {"data":{"values":[{"x":7.192,"y":0.4558,"n":"8"}]},"encoding":{"y":{"field":"y","type":"quantitative","scale":{"domain":[0.196,0.464]},"axis":null}},"layer":[{"mark":{"type":"square","size":130,"filled":true,"fill":"#a9c9ef","stroke":"#3f6fb8","strokeWidth":1,"opacity":1}},{"mark":{"type":"text","fontSize":8,"color":"#1a3a7a"},"encoding":{"text":{"field":"n"}}}]}
]},
{"width":228,"height":50,"resolve":{"axis":{"x":"independent"}},"layer":[
 {"data":{"name":"r5"},"mark":{"type":"line","color":"#d4303c","strokeWidth":1},"encoding":{"x":{"field":"x","type":"quantitative","scale":{"domain":[6.487,7.213]},"axis":{"orient":"bottom","values":[6.48,6.5,6.52,6.54,6.56,6.58,6.6,6.62,6.64,6.66,6.68,6.7,6.72,6.74,6.76,6.78,6.8,6.82,6.84,6.86,6.88,6.9,6.92,6.94,6.96,6.98,7,7.02,7.04,7.06,7.08,7.1,7.12,7.14,7.16,7.18,7.2,7.22],"labelExpr":"abs(datum.value*10-round(datum.value*10))<0.01 ? format(datum.value,'~g') : ''","labelPadding":5,"tickSize":-3,"title":null}},"y":{"field":"y","type":"quantitative","scale":{"domain":[-0.0171,0.0152]},"axis":{"orient":"left","values":[-0.01,0,0.01],"labelExpr":"replace(format(datum.value,'~g'),'−','-')","tickSize":4,"title":null}}}},
 {"data":{"name":"r5"},"mark":{"type":"line","opacity":0},"encoding":{"x":{"field":"x","type":"quantitative","scale":{"domain":[6.487,7.213]},"axis":{"orient":"top","values":[6.48,6.5,6.52,6.54,6.56,6.58,6.6,6.62,6.64,6.66,6.68,6.7,6.72,6.74,6.76,6.78,6.8,6.82,6.84,6.86,6.88,6.9,6.92,6.94,6.96,6.98,7,7.02,7.04,7.06,7.08,7.1,7.12,7.14,7.16,7.18,7.2,7.22],"labels":false,"domain":false,"tickSize":-3,"title":null}},"y":{"field":"y","type":"quantitative","scale":{"domain":[-0.0171,0.0152]},"axis":null}}}
]},
{"width":211,"height":50,"resolve":{"axis":{"x":"independent"}},"layer":[
 {"data":{"name":"r6"},"mark":{"type":"line","color":"#d4303c","strokeWidth":1},"encoding":{"x":{"field":"x","type":"quantitative","scale":{"domain":[6.49,7.201]},"axis":{"orient":"bottom","values":[6.48,6.5,6.52,6.54,6.56,6.58,6.6,6.62,6.64,6.66,6.68,6.7,6.72,6.74,6.76,6.78,6.8,6.82,6.84,6.86,6.88,6.9,6.92,6.94,6.96,6.98,7,7.02,7.04,7.06,7.08,7.1,7.12,7.14,7.16,7.18,7.2,7.22],"labelExpr":"abs(datum.value*10-round(datum.value*10))<0.01 ? format(datum.value,'~g') : ''","labelPadding":5,"tickSize":-3,"title":null}},"y":{"field":"y","type":"quantitative","scale":{"domain":[-0.0112,0.009]},"axis":{"orient":"left","values":[-0.01,-0.005,0,0.005],"labelExpr":"replace(format(datum.value,'~g'),'−','-')","tickSize":4,"title":null}}}},
 {"data":{"name":"r6"},"mark":{"type":"line","opacity":0},"encoding":{"x":{"field":"x","type":"quantitative","scale":{"domain":[6.49,7.201]},"axis":{"orient":"top","values":[6.48,6.5,6.52,6.54,6.56,6.58,6.6,6.62,6.64,6.66,6.68,6.7,6.72,6.74,6.76,6.78,6.8,6.82,6.84,6.86,6.88,6.9,6.92,6.94,6.96,6.98,7,7.02,7.04,7.06,7.08,7.1,7.12,7.14,7.16,7.18,7.2,7.22],"labels":false,"domain":false,"tickSize":-3,"title":null}},"y":{"field":"y","type":"quantitative","scale":{"domain":[-0.0112,0.009]},"axis":null}}}
]},
{"width":212,"height":50,"resolve":{"axis":{"x":"independent"}},"layer":[
 {"data":{"name":"r7"},"mark":{"type":"line","color":"#d4303c","strokeWidth":1},"encoding":{"x":{"field":"x","type":"quantitative","scale":{"domain":[6.476,7.215]},"axis":{"orient":"bottom","values":[6.48,6.5,6.52,6.54,6.56,6.58,6.6,6.62,6.64,6.66,6.68,6.7,6.72,6.74,6.76,6.78,6.8,6.82,6.84,6.86,6.88,6.9,6.92,6.94,6.96,6.98,7,7.02,7.04,7.06,7.08,7.1,7.12,7.14,7.16,7.18,7.2,7.22],"labelExpr":"abs(datum.value*10-round(datum.value*10))<0.01 ? format(datum.value,'~g') : ''","labelPadding":5,"tickSize":-3,"title":null}},"y":{"field":"y","type":"quantitative","scale":{"domain":[-0.0156,0.0122]},"axis":{"orient":"left","values":[-0.01,0,0.01],"labelExpr":"replace(format(datum.value,'~g'),'−','-')","tickSize":4,"title":null}}}},
 {"data":{"name":"r7"},"mark":{"type":"line","opacity":0},"encoding":{"x":{"field":"x","type":"quantitative","scale":{"domain":[6.476,7.215]},"axis":{"orient":"top","values":[6.48,6.5,6.52,6.54,6.56,6.58,6.6,6.62,6.64,6.66,6.68,6.7,6.72,6.74,6.76,6.78,6.8,6.82,6.84,6.86,6.88,6.9,6.92,6.94,6.96,6.98,7,7.02,7.04,7.06,7.08,7.1,7.12,7.14,7.16,7.18,7.2,7.22],"labels":false,"domain":false,"tickSize":-3,"title":null}},"y":{"field":"y","type":"quantitative","scale":{"domain":[-0.0156,0.0122]},"axis":null}}}
]},
{"width":225,"height":50,"resolve":{"axis":{"x":"independent"}},"layer":[
 {"data":{"name":"r8"},"mark":{"type":"line","color":"#d4303c","strokeWidth":1},"encoding":{"x":{"field":"x","type":"quantitative","scale":{"domain":[6.49,7.204]},"axis":{"orient":"bottom","values":[6.48,6.5,6.52,6.54,6.56,6.58,6.6,6.62,6.64,6.66,6.68,6.7,6.72,6.74,6.76,6.78,6.8,6.82,6.84,6.86,6.88,6.9,6.92,6.94,6.96,6.98,7,7.02,7.04,7.06,7.08,7.1,7.12,7.14,7.16,7.18,7.2,7.22],"labelExpr":"abs(datum.value*10-round(datum.value*10))<0.01 ? format(datum.value,'~g') : ''","labelPadding":5,"tickSize":-3,"title":null}},"y":{"field":"y","type":"quantitative","scale":{"domain":[-0.00875,0.0121]},"axis":{"orient":"left","values":[-0.005,0,0.005,0.01],"labelExpr":"replace(format(datum.value,'~g'),'−','-')","tickSize":4,"title":null}}}},
 {"data":{"name":"r8"},"mark":{"type":"line","opacity":0},"encoding":{"x":{"field":"x","type":"quantitative","scale":{"domain":[6.49,7.204]},"axis":{"orient":"top","values":[6.48,6.5,6.52,6.54,6.56,6.58,6.6,6.62,6.64,6.66,6.68,6.7,6.72,6.74,6.76,6.78,6.8,6.82,6.84,6.86,6.88,6.9,6.92,6.94,6.96,6.98,7,7.02,7.04,7.06,7.08,7.1,7.12,7.14,7.16,7.18,7.2,7.22],"labels":false,"domain":false,"tickSize":-3,"title":null}},"y":{"field":"y","type":"quantitative","scale":{"domain":[-0.00875,0.0121]},"axis":null}}}
]}
]
}
